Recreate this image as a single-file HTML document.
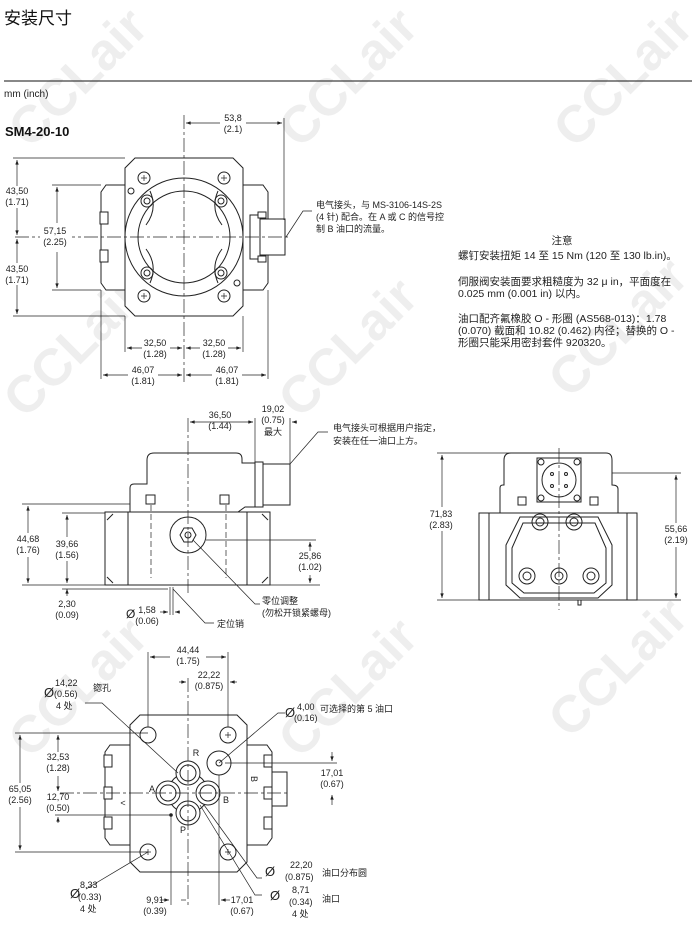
<!DOCTYPE html>
<html><head><meta charset="utf-8"><style>
html,body{margin:0;padding:0;background:#fff;width:697px;height:928px;overflow:hidden;}
svg{display:block;font-family:"Liberation Sans","Noto Sans CJK SC",sans-serif;}
.wm{font:bold 52px "Liberation Sans",sans-serif;fill:#eeeeee;}
.t{font-size:9px;fill:#222;text-anchor:middle;}
.l{font-size:9px;fill:#222;}
.n{font-size:10.5px;fill:#222;}
.s{stroke:#222;fill:none;stroke-width:1;}
.sf{stroke:#222;fill:#fff;stroke-width:1;}
.c{stroke:#222;fill:none;stroke-width:.7;stroke-dasharray:14 3 3 3;}
.d{stroke:#222;fill:none;stroke-width:.7;}
</style></head><body>
<svg width="697" height="928" viewBox="0 0 697 928">
<defs><marker id="a" viewBox="0 0 8 6" refX="8" refY="3" markerWidth="7" markerHeight="5" orient="auto-start-reverse"><path d="M0,0L8,3L0,6z" fill="#222"/></marker></defs>
<g class="wm">
<text transform="translate(30,150) rotate(-45)">CCLair</text>
<text transform="translate(300,150) rotate(-45)">CCLair</text>
<text transform="translate(575,150) rotate(-45)">CCLair</text>
<text transform="translate(25,420) rotate(-45)">CCLair</text>
<text transform="translate(300,420) rotate(-45)">CCLair</text>
<text transform="translate(570,400) rotate(-45)">CCLair</text>
<text transform="translate(30,760) rotate(-45)">CCLair</text>
<text transform="translate(300,760) rotate(-45)">CCLair</text>
<text transform="translate(570,740) rotate(-45)">CCLair</text>
</g>
<text x="4" y="24" style="font-size:17px;fill:#111">安装尺寸</text>
<line x1="4" y1="81" x2="692" y2="81" stroke="#111" stroke-width="1"/>
<text x="4" y="97" style="font-size:10px;fill:#222">mm (inch)</text>
<text x="5" y="136" style="font-size:13px;font-weight:bold;fill:#111">SM4-20-10</text>

<!-- TOP VIEW -->
<path class="sf" d="M101,192 l5,-7 h19 v105 h-19 l-5,-7z"/>
<path class="sf" d="M268,192 l-5,-7 h-20 v105 h20 l5,-7z"/>
<rect class="sf" x="100" y="212" width="8" height="12"/><rect class="sf" x="100" y="250" width="8" height="12"/>
<path class="sf" d="M135,158 H233 L243,168 V306 L233,316 H135 L125,306 V168z"/>
<circle class="s" cx="184" cy="237" r="59"/>
<circle class="s" cx="184" cy="237" r="46"/>
<path class="s" d="M150,191 q8,18 -4,34 M218,191 q-8,18 4,34 M150,283 q8,-18 -4,-34 M218,283 q-8,-18 4,-34"/>
<g class="s"><circle cx="144" cy="178" r="6"/><circle cx="224" cy="178" r="6"/><circle cx="144" cy="296" r="6"/><circle cx="224" cy="296" r="6"/>
<circle cx="147" cy="201" r="6"/><circle cx="147" cy="201" r="3"/><circle cx="221" cy="201" r="6"/><circle cx="221" cy="201" r="3"/>
<circle cx="147" cy="273" r="6"/><circle cx="147" cy="273" r="3"/><circle cx="221" cy="273" r="6"/><circle cx="221" cy="273" r="3"/>
<circle cx="131" cy="191" r="3"/><circle cx="237" cy="283" r="3"/></g>
<g class="d"><path d="M141,178h6M144,175v6M221,178h6M224,175v6M141,296h6M144,293v6M221,296h6M224,293v6"/></g>
<rect class="sf" x="250" y="215" width="10" height="44"/><rect class="sf" x="260" y="219" width="25" height="36"/>
<rect class="sf" x="258" y="212" width="8" height="6"/><rect class="sf" x="258" y="256" width="8" height="6"/>
<line class="c" x1="184" y1="115" x2="184" y2="385"/>
<line class="c" x1="15" y1="237" x2="290" y2="237"/>
<g class="d">
<line x1="284" y1="118" x2="284" y2="220"/>
<line x1="186" y1="123" x2="282" y2="123" marker-start="url(#a)" marker-end="url(#a)"/>
<line x1="13" y1="158" x2="125" y2="158"/><line x1="13" y1="316" x2="125" y2="316"/>
<line x1="17" y1="160" x2="17" y2="235" marker-start="url(#a)" marker-end="url(#a)"/>
<line x1="17" y1="239" x2="17" y2="314" marker-start="url(#a)" marker-end="url(#a)"/>
<line x1="52" y1="185" x2="101" y2="185"/><line x1="52" y1="290" x2="101" y2="290"/>
<line x1="57" y1="187" x2="57" y2="223" marker-start="url(#a)"/><line x1="57" y1="252" x2="57" y2="288" marker-end="url(#a)"/>
<line x1="125" y1="316" x2="125" y2="352"/><line x1="243" y1="316" x2="243" y2="352"/>
<line x1="127" y1="348" x2="182" y2="348" marker-start="url(#a)" marker-end="url(#a)"/>
<line x1="186" y1="348" x2="241" y2="348" marker-start="url(#a)" marker-end="url(#a)"/>
<line x1="101" y1="290" x2="101" y2="379"/><line x1="268" y1="290" x2="268" y2="379"/>
<line x1="103" y1="375" x2="182" y2="375" marker-start="url(#a)" marker-end="url(#a)"/>
<line x1="186" y1="375" x2="266" y2="375" marker-start="url(#a)" marker-end="url(#a)"/>
<path d="M286,237 L303,211 H312"/>
</g>
<rect x="220" y="112" width="26" height="22" fill="#fff"/>
<text class="t" x="233" y="121">53,8</text><text class="t" x="233" y="132">(2.1)</text>
<rect x="3" y="186" width="28" height="22" fill="#fff"/><text class="t" x="17" y="194">43,50</text><text class="t" x="17" y="205">(1.71)</text>
<rect x="3" y="263" width="28" height="22" fill="#fff"/><text class="t" x="17" y="272">43,50</text><text class="t" x="17" y="283">(1.71)</text>
<rect x="40" y="225" width="32" height="22" fill="#fff"/><text class="t" x="55" y="234">57,15</text><text class="t" x="55" y="245">(2.25)</text>
<rect x="142" y="338" width="28" height="22" fill="#fff"/><text class="t" x="155" y="346">32,50</text><text class="t" x="155" y="357">(1.28)</text>
<rect x="200" y="338" width="28" height="22" fill="#fff"/><text class="t" x="214" y="346">32,50</text><text class="t" x="214" y="357">(1.28)</text>
<rect x="128" y="365" width="30" height="22" fill="#fff"/><text class="t" x="143" y="373">46,07</text><text class="t" x="143" y="384">(1.81)</text>
<rect x="212" y="365" width="30" height="22" fill="#fff"/><text class="t" x="227" y="373">46,07</text><text class="t" x="227" y="384">(1.81)</text>
<text class="l" x="316" y="208">电气接头，与 MS-3106-14S-2S</text>
<text class="l" x="316" y="220">(4 针) 配合。在 A 或 C 的信号控</text>
<text class="l" x="316" y="232">制 B 油口的流量。</text>

<!-- NOTES -->
<text class="n" x="562" y="244" text-anchor="middle">注意</text>
<text class="n" x="458" y="259">螺钉安装扭矩 14 至 15 Nm (120 至 130 lb.in)。</text>
<text class="n" x="458" y="285">伺服阀安装面要求粗糙度为 32 μ in，平面度在</text>
<text class="n" x="458" y="297">0.025 mm (0.001 in) 以内。</text>
<text class="n" x="458" y="322">油口配齐氟橡胶 O - 形圈 (AS568-013)：1.78</text>
<text class="n" x="458" y="334">(0.070) 截面和 10.82 (0.462) 内径；替换的 O -</text>
<text class="n" x="458" y="346">形圈只能采用密封套件 920320。</text>

<!-- SIDE VIEW -->
<path class="sf" d="M130,505 V488 q0,-4 4,-4 H147 V460 q0,-7 7,-7 H236 q6,0 6,6 v4 H256 V507 H245 L238,512 H130z"/>
<rect class="sf" x="105" y="512" width="165" height="73"/>
<line class="s" x1="128" y1="512" x2="128" y2="585"/><line class="s" x1="247" y1="512" x2="247" y2="585"/>
<path class="s" d="M107,520 l6,-6 M107,577 l6,6 M268,520 l-6,-6 M268,577 l-6,6"/>
<rect class="sf" x="255" y="462" width="8" height="45"/><rect class="sf" x="263" y="464" width="27" height="41"/>
<rect class="sf" x="146" y="495" width="9" height="9"/><rect class="sf" x="220" y="495" width="9" height="9"/>
<circle class="s" cx="188" cy="535" r="18"/>
<path class="sf" d="M180,535 l4,-7 h8 l4,7 l-4,7 h-8z"/><circle class="s" cx="188" cy="535" r="3"/>
<line class="c" x1="188" y1="418" x2="188" y2="595"/>
<g class="d">
<line x1="151" y1="505" x2="151" y2="578" stroke-dasharray="6 3"/><line x1="226" y1="505" x2="226" y2="578" stroke-dasharray="6 3"/>
<line x1="255" y1="418" x2="255" y2="462"/><line x1="290" y1="418" x2="290" y2="464"/>
<line x1="190" y1="422" x2="253" y2="422" marker-start="url(#a)" marker-end="url(#a)"/>
<line x1="297" y1="422" x2="292" y2="422" marker-end="url(#a)"/><line x1="248" y1="422" x2="253" y2="422"/>
<line x1="22" y1="504" x2="130" y2="504"/><line x1="22" y1="585" x2="320" y2="585"/>
<line x1="62" y1="513" x2="105" y2="513"/>
<line x1="28" y1="506" x2="28" y2="583" marker-start="url(#a)" marker-end="url(#a)"/>
<line x1="67" y1="515" x2="67" y2="583" marker-start="url(#a)" marker-end="url(#a)"/>
<line x1="206" y1="540" x2="316" y2="540"/>
<line x1="310" y1="542" x2="310" y2="583" marker-start="url(#a)" marker-end="url(#a)"/>
<line x1="67" y1="596" x2="67" y2="589" marker-end="url(#a)"/><line x1="62" y1="589" x2="168" y2="589"/>
<line x1="170" y1="587" x2="170" y2="615"/><line x1="173" y1="587" x2="173" y2="615"/>
<line x1="160" y1="612" x2="168" y2="612" marker-end="url(#a)"/><line x1="180" y1="612" x2="175" y2="612" marker-end="url(#a)"/>
<path d="M173,589 L205,623 H214"/>
<path d="M193,540 L255,604 H260"/>
<path d="M290,464 L318,432 H328"/>
</g>
<text class="t" x="220" y="418">36,50</text><text class="t" x="220" y="429">(1.44)</text>
<text class="t" x="273" y="412">19,02</text><text class="t" x="273" y="423">(0.75)</text><text class="t" x="273" y="435">最大</text>
<rect x="12" y="533" width="32" height="24" fill="#fff"/><text class="t" x="28" y="542">44,68</text><text class="t" x="28" y="553">(1.76)</text>
<rect x="51" y="537" width="32" height="24" fill="#fff"/><text class="t" x="67" y="547">39,66</text><text class="t" x="67" y="558">(1.56)</text>
<rect x="294" y="551" width="32" height="24" fill="#fff"/><text class="t" x="310" y="559">25,86</text><text class="t" x="310" y="570">(1.02)</text>
<text class="t" x="67" y="607">2,30</text><text class="t" x="67" y="618">(0.09)</text>
<text x="126" y="618" style="font-size:12px;fill:#222">Ø</text><text class="t" x="147" y="613">1,58</text><text class="t" x="147" y="624">(0.06)</text>
<text class="l" x="217" y="627">定位销</text>
<text class="l" x="262" y="604">零位调整</text><text class="l" x="262" y="616">(勿松开锁紧螺母)</text>
<text class="l" x="333" y="431">电气接头可根据用户指定，</text><text class="l" x="333" y="444">安装在任一油口上方。</text>

<!-- END VIEW -->
<path class="sf" d="M500,513 V488 q0,-3 3,-3 H504 V460 q0,-7 7,-7 H606 q6,0 6,7 V485 q6,0 6,4 V513z"/>
<rect class="sf" x="479" y="513" width="158" height="87"/>
<line class="s" x1="489" y1="513" x2="489" y2="600"/><line class="s" x1="627" y1="513" x2="627" y2="600"/>
<path class="s" d="M520,517 H598 L612,545 V585 L598,598 H520 L506,585 V545z"/>
<path class="s" d="M523,523 H595 L606,548 V583 L594,593 H524 L512,583 V548z"/>
<rect class="sf" x="537" y="458" width="44" height="44"/>
<circle class="s" cx="559" cy="480" r="17"/>
<g class="s"><circle cx="541" cy="462" r="3"/><circle cx="577" cy="462" r="3"/><circle cx="541" cy="498" r="3"/><circle cx="577" cy="498" r="3"/>
<circle cx="552" cy="474" r="1.5"/><circle cx="566" cy="474" r="1.5"/><circle cx="552" cy="486" r="1.5"/><circle cx="566" cy="486" r="1.5"/></g>
<rect class="sf" x="518" y="497" width="8" height="8"/><rect class="sf" x="590" y="497" width="8" height="8"/>
<g class="s">
<circle cx="540" cy="522" r="8"/><circle cx="540" cy="522" r="4"/><circle cx="574" cy="522" r="8"/><circle cx="574" cy="522" r="4"/>
<circle cx="527" cy="576" r="8"/><circle cx="527" cy="576" r="4"/><circle cx="559" cy="576" r="8"/><circle cx="559" cy="576" r="4"/><circle cx="591" cy="576" r="8"/><circle cx="591" cy="576" r="4"/>
</g>
<rect class="sf" x="578" y="600" width="3" height="5"/>
<line class="c" x1="559" y1="448" x2="559" y2="610"/>
<g class="d">
<line x1="437" y1="453" x2="520" y2="453"/><line x1="437" y1="600" x2="479" y2="600"/>
<line x1="442" y1="455" x2="442" y2="598" marker-start="url(#a)" marker-end="url(#a)"/>
<line x1="612" y1="473" x2="681" y2="473"/><line x1="637" y1="600" x2="681" y2="600"/>
<line x1="676" y1="475" x2="676" y2="598" marker-start="url(#a)" marker-end="url(#a)"/>
</g>
<rect x="425" y="507" width="34" height="24" fill="#fff"/><text class="t" x="441" y="517">71,83</text><text class="t" x="441" y="528">(2.83)</text>
<rect x="660" y="523" width="34" height="24" fill="#fff"/><text class="t" x="676" y="532">55,66</text><text class="t" x="676" y="543">(2.19)</text>

<!-- BOTTOM VIEW -->
<path class="sf" d="M105,752 l5,-7 h20 v100 h-20 l-5,-7z"/>
<path class="sf" d="M272,752 l-5,-7 h-20 v100 h20 l5,-7z"/>
<g class="sf"><rect x="104" y="755" width="8" height="12"/><rect x="104" y="787" width="8" height="12"/><rect x="104" y="817" width="8" height="12"/>
<rect x="264" y="755" width="8" height="12"/><rect x="264" y="787" width="8" height="12"/><rect x="264" y="817" width="8" height="12"/></g>
<rect class="sf" x="272" y="772" width="15" height="34"/>
<path class="sf" d="M140,715 H237 L247,725 V862 L237,872 H140 L130,862 V725z"/>
<text class="t" x="123" y="806">&lt;</text><text class="t" x="254" y="782" transform="rotate(90 254 779)">B</text>
<g class="s">
<circle cx="148" cy="735" r="8"/><circle cx="228" cy="735" r="8"/><circle cx="148" cy="852" r="8"/><circle cx="228" cy="852" r="8"/>
<circle cx="188" cy="793" r="20"/>
<circle cx="188" cy="773" r="12" fill="#fff"/><circle cx="188" cy="773" r="8"/>
<circle cx="168" cy="793" r="12" fill="#fff"/><circle cx="168" cy="793" r="8"/>
<circle cx="208" cy="793" r="12" fill="#fff"/><circle cx="208" cy="793" r="8"/>
<circle cx="188" cy="813" r="12" fill="#fff"/><circle cx="188" cy="813" r="8"/>
<circle cx="219" cy="763" r="12"/><circle cx="219" cy="763" r="3"/>
</g>
<path class="d" d="M225,735h6M228,732v6M145,852h6M148,849v6M225,852h6M228,849v6"/>
<circle cx="171" cy="815" r="1.8" fill="#222"/>
<text class="t" x="196" y="756">R</text><text class="t" x="152" y="792">A</text><text class="t" x="226" y="803">B</text><text class="t" x="183" y="833">P</text>
<line class="c" x1="188" y1="678" x2="188" y2="905"/>
<line class="c" x1="60" y1="793" x2="290" y2="793"/>
<g class="d">
<line x1="148" y1="652" x2="148" y2="727"/><line x1="228" y1="652" x2="228" y2="727"/>
<line x1="150" y1="657" x2="226" y2="657" marker-start="url(#a)" marker-end="url(#a)"/>
<line x1="237" y1="682" x2="230" y2="682" marker-end="url(#a)"/><line x1="179" y1="682" x2="186" y2="682" marker-end="url(#a)"/>
<line x1="15" y1="733" x2="148" y2="733"/><line x1="15" y1="852" x2="148" y2="852"/>
<line x1="20" y1="735" x2="20" y2="850" marker-start="url(#a)" marker-end="url(#a)"/>
<line x1="58" y1="735" x2="58" y2="791" marker-start="url(#a)" marker-end="url(#a)"/>
<line x1="58" y1="823" x2="58" y2="817" marker-end="url(#a)"/><line x1="55" y1="815" x2="171" y2="815"/>
<line x1="225" y1="763" x2="337" y2="763"/>
<line x1="332" y1="752" x2="332" y2="761" marker-end="url(#a)"/><line x1="332" y1="805" x2="332" y2="795" marker-end="url(#a)"/>
<line x1="171" y1="815" x2="171" y2="905"/><line x1="219" y1="775" x2="219" y2="905"/>
<line x1="160" y1="900" x2="169" y2="900" marker-end="url(#a)"/><line x1="181" y1="900" x2="186" y2="900"/>
<line x1="230" y1="900" x2="221" y2="900" marker-end="url(#a)"/>
<path d="M85,703 H102 L178,773"/>
<path d="M285,713 H278 L219,763"/>
<path d="M262,895 H255 L200,805"/>
<path d="M262,878 H257 L204,805"/>
<path d="M86,889 L148,852"/>
</g>
<rect x="170" y="644" width="36" height="24" fill="#fff"/><text class="t" x="188" y="653">44,44</text><text class="t" x="188" y="664">(1.75)</text>
<text class="t" x="209" y="678">22,22</text><text class="t" x="209" y="689">(0.875)</text>
<rect x="4" y="783" width="32" height="24" fill="#fff"/><text class="t" x="20" y="792">65,05</text><text class="t" x="20" y="803">(2.56)</text>
<rect x="42" y="752" width="32" height="24" fill="#fff"/><text class="t" x="58" y="760">32,53</text><text class="t" x="58" y="771">(1.28)</text>
<text class="t" x="58" y="800">12,70</text><text class="t" x="58" y="811">(0.50)</text>
<text class="t" x="332" y="776">17,01</text><text class="t" x="332" y="787">(0.67)</text>
<text class="t" x="155" y="903">9,91</text><text class="t" x="155" y="914">(0.39)</text>
<text class="t" x="242" y="903">17,01</text><text class="t" x="242" y="914">(0.67)</text>
<text x="44" y="697" style="font-size:13px;fill:#222">Ø</text><text class="l" x="55" y="686">14,22</text><text class="l" x="54" y="697">(0.56)</text><text class="l" x="56" y="709">4 处</text><text class="l" x="93" y="691">锪孔</text>
<text x="285" y="717" style="font-size:13px;fill:#222">Ø</text><text class="l" x="297" y="710">4,00</text><text class="l" x="294" y="721">(0.16)</text><text class="l" x="320" y="712">可选择的第 5 油口</text>
<text x="70" y="898" style="font-size:13px;fill:#222">Ø</text><text class="l" x="80" y="888">8,33</text><text class="l" x="78" y="900">(0.33)</text><text class="l" x="80" y="912">4 处</text>
<text x="265" y="876" style="font-size:13px;fill:#222">Ø</text><text class="l" x="290" y="868">22,20</text><text class="l" x="285" y="880">(0.875)</text><text class="l" x="322" y="876">油口分布圆</text>
<text x="270" y="900" style="font-size:13px;fill:#222">Ø</text><text class="l" x="292" y="893">8,71</text><text class="l" x="289" y="905">(0.34)</text><text class="l" x="292" y="917">4 处</text><text class="l" x="322" y="902">油口</text>
</svg>
</body></html>
